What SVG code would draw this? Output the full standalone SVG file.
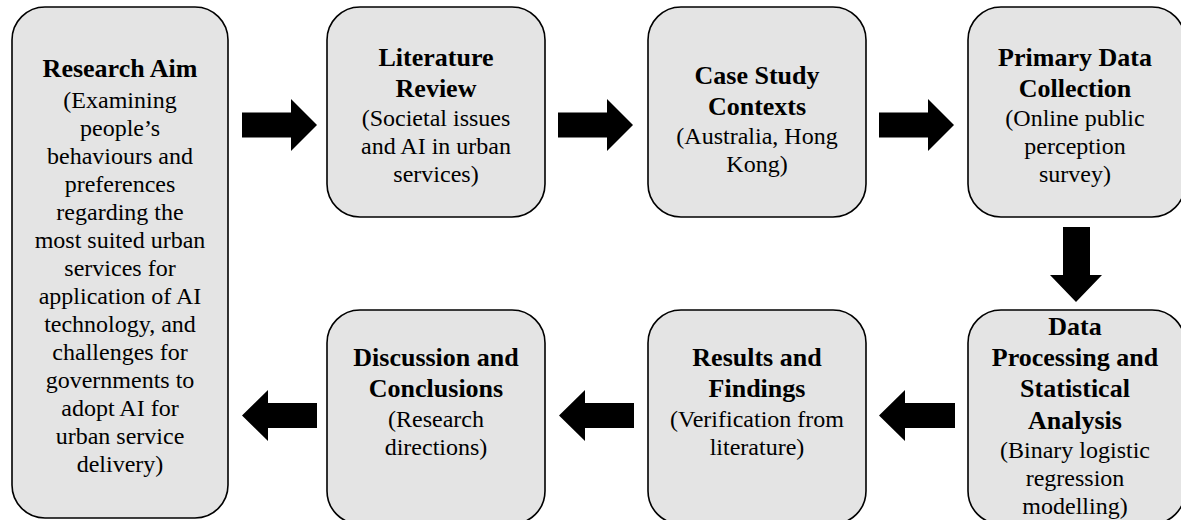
<svg xmlns="http://www.w3.org/2000/svg" width="1181" height="520" viewBox="0 0 1181 520">
<style>
.box{fill:#e4e4e4;stroke:#000;stroke-width:1.6}
.t{font-family:"Liberation Serif","Times New Roman",serif;font-weight:bold;font-size:26px;text-anchor:middle;fill:#000}
.b{font-family:"Liberation Serif","Times New Roman",serif;font-size:24px;text-anchor:middle;fill:#000}
.arr{fill:#000}
</style>
<rect width="1181" height="520" fill="#fff"/>
<g id="n1">
<rect class="box" x="12" y="7" width="216" height="511" rx="33"/>
<text class="t" x="120" y="77">Research Aim</text>
<text class="b" x="120" y="108">(Examining</text>
<text class="b" x="120" y="136">people’s</text>
<text class="b" x="120" y="164">behaviours and</text>
<text class="b" x="120" y="192">preferences</text>
<text class="b" x="120" y="220">regarding the</text>
<text class="b" x="120" y="248">most suited urban</text>
<text class="b" x="120" y="276">services for</text>
<text class="b" x="120" y="304">application of AI</text>
<text class="b" x="120" y="332">technology, and</text>
<text class="b" x="120" y="360">challenges for</text>
<text class="b" x="120" y="388">governments to</text>
<text class="b" x="120" y="416">adopt AI for</text>
<text class="b" x="120" y="444">urban service</text>
<text class="b" x="120" y="472">delivery)</text>
</g>
<g id="n2">
<rect class="box" x="327" y="7" width="218" height="210" rx="33"/>
<text class="t" x="436" y="66">Literature</text>
<text class="t" x="436" y="97">Review</text>
<text class="b" x="436" y="126">(Societal issues</text>
<text class="b" x="436" y="154">and AI in urban</text>
<text class="b" x="436" y="182">services)</text>
</g>
<g id="n3">
<rect class="box" x="648" y="7" width="218" height="210" rx="33"/>
<text class="t" x="757" y="84">Case Study</text>
<text class="t" x="757" y="115">Contexts</text>
<text class="b" x="757" y="144">(Australia, Hong</text>
<text class="b" x="757" y="172">Kong)</text>
</g>
<g id="n4">
<rect class="box" x="968" y="7" width="217" height="210" rx="33"/>
<text class="t" x="1075" y="66">Primary Data</text>
<text class="t" x="1075" y="97">Collection</text>
<text class="b" x="1075" y="126">(Online public</text>
<text class="b" x="1075" y="154">perception</text>
<text class="b" x="1075" y="182">survey)</text>
</g>
<g id="n5">
<rect class="box" x="968" y="310" width="217" height="214" rx="33"/>
<text class="t" x="1075" y="335">Data</text>
<text class="t" x="1075" y="366">Processing and</text>
<text class="t" x="1075" y="397">Statistical</text>
<text class="t" x="1075" y="429">Analysis</text>
<text class="b" x="1075" y="458">(Binary logistic</text>
<text class="b" x="1075" y="486">regression</text>
<text class="b" x="1075" y="514">modelling)</text>
</g>
<g id="n6">
<rect class="box" x="648" y="310" width="218" height="214" rx="33"/>
<text class="t" x="757" y="366">Results and</text>
<text class="t" x="757" y="397">Findings</text>
<text class="b" x="757" y="427">(Verification from</text>
<text class="b" x="757" y="455">literature)</text>
</g>
<g id="n7">
<rect class="box" x="327" y="310" width="218" height="214" rx="33"/>
<text class="t" x="436" y="366">Discussion and</text>
<text class="t" x="436" y="397">Conclusions</text>
<text class="b" x="436" y="427">(Research</text>
<text class="b" x="436" y="455">directions)</text>
</g>
<g id="connectors">
<polygon class="arr" points="242,112.5 291,112.5 291,99 317,125 291,151 291,137.5 242,137.5"/>
<polygon class="arr" points="558,112.5 607,112.5 607,99 633,125 607,151 607,137.5 558,137.5"/>
<polygon class="arr" points="879,112.5 928,112.5 928,99 954,125 928,151 928,137.5 879,137.5"/>
<polygon class="arr" points="1063,227 1090,227 1090,275 1102,275 1076,302 1050,275 1063,275"/>
<polygon class="arr" points="955,403 905,403 905,390 879,415.5 905,441 905,428 955,428"/>
<polygon class="arr" points="634,403 585,403 585,390 559,415.5 585,441 585,428 634,428"/>
<polygon class="arr" points="317,403 268,403 268,390 242,415.5 268,441 268,428 317,428"/>
</g>
</svg>
